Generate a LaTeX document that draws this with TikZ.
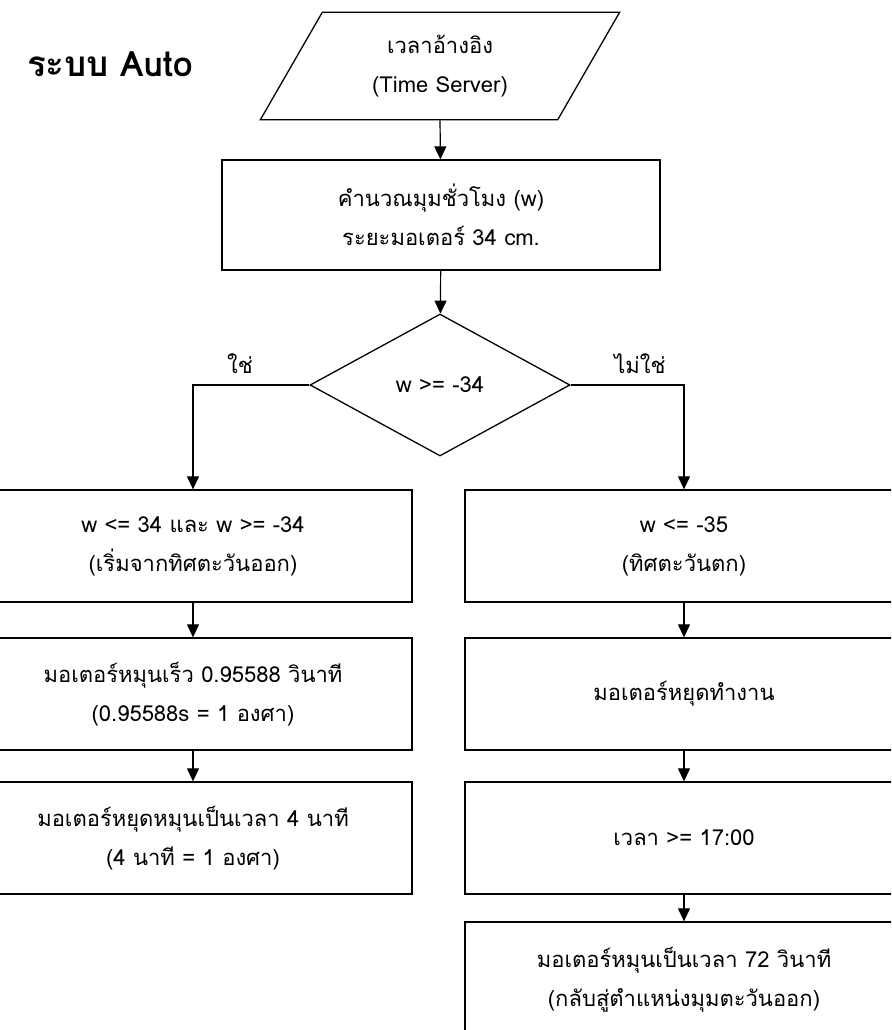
\documentclass[tikz,border=0pt]{standalone}
\usepackage{fontspec}
\setmainfont[Script=Thai]{Loma}
\usetikzlibrary{shapes.geometric,arrows.meta}
\begin{document}
\begin{tikzpicture}[x=1pt,y=-1pt,
  shapeline/.style={draw, line width=1.3pt},
  txt/.style={align=center, font=\fontsize{22}{39}\selectfont, inner sep=0pt},
  box/.style={shapeline, txt, minimum width=438pt, minimum height=112pt},
  arr/.style={line width=1.2pt, -{Triangle[length=13pt,width=12pt]}}]
\useasboundingbox (0,0) rectangle (891,1030);
\clip (0,0) rectangle (891,1030);
\node[font=\fontsize{35}{40}\selectfont\bfseries, inner sep=0pt] (title) at (110,64) {ระบบ Auto};
\node[shapeline, txt, trapezium, trapezium left angle=60, trapezium right angle=120,
      minimum width=360pt, minimum height=100pt] (in) at (440,66) {เวลาอ้างอิง\\(Time Server)};
\node[box, minimum height=110pt] (b1) at (441,215) {คำนวณมุมชั่วโมง (w)\\ระยะมอเตอร์ 34 cm.};
\node[shapeline, txt, diamond, minimum width=260pt, minimum height=142pt] (d) at (440,385) {w >= -34};
\node[box] (l1) at (193,546) {w <= 34 และ w >= -34\\(เริ่มจากทิศตะวันออก)};
\node[box] (r1) at (684,546) {w <= -35\\(ทิศตะวันตก)};
\node[box] (l2) at (193,694) {มอเตอร์หมุนเร็ว 0.95588 วินาที\\(0.95588s = 1 องศา)};
\node[box] (r2) at (684,694) {มอเตอร์หยุดทำงาน};
\node[box] (l3) at (193,838) {มอเตอร์หยุดหมุนเป็นเวลา 4 นาที\\(4 นาที = 1 องศา)};
\node[box] (r3) at (684,838) {เวลา >= 17:00};
\node[box, minimum height=116pt] (r4) at (684,980) {มอเตอร์หมุนเป็นเวลา 72 วินาที\\(กลับสู่ตำแหน่งมุมตะวันออก)};
\node[txt] (yes) at (240,364) {ใช่};
\node[txt] (no) at (640,364) {ไม่ใช่};
\draw[arr] (in.south) -- (b1);
\draw[arr] (b1) -- (d);
\draw[arr] (d.west) -| (l1.north);
\draw[arr] (d.east) -| (r1.north);
\draw[arr] (l1) -- (l2);
\draw[arr] (l2) -- (l3);
\draw[arr] (r1) -- (r2);
\draw[arr] (r2) -- (r3);
\draw[arr] (r3) -- (r4);
\end{tikzpicture}
\end{document}
